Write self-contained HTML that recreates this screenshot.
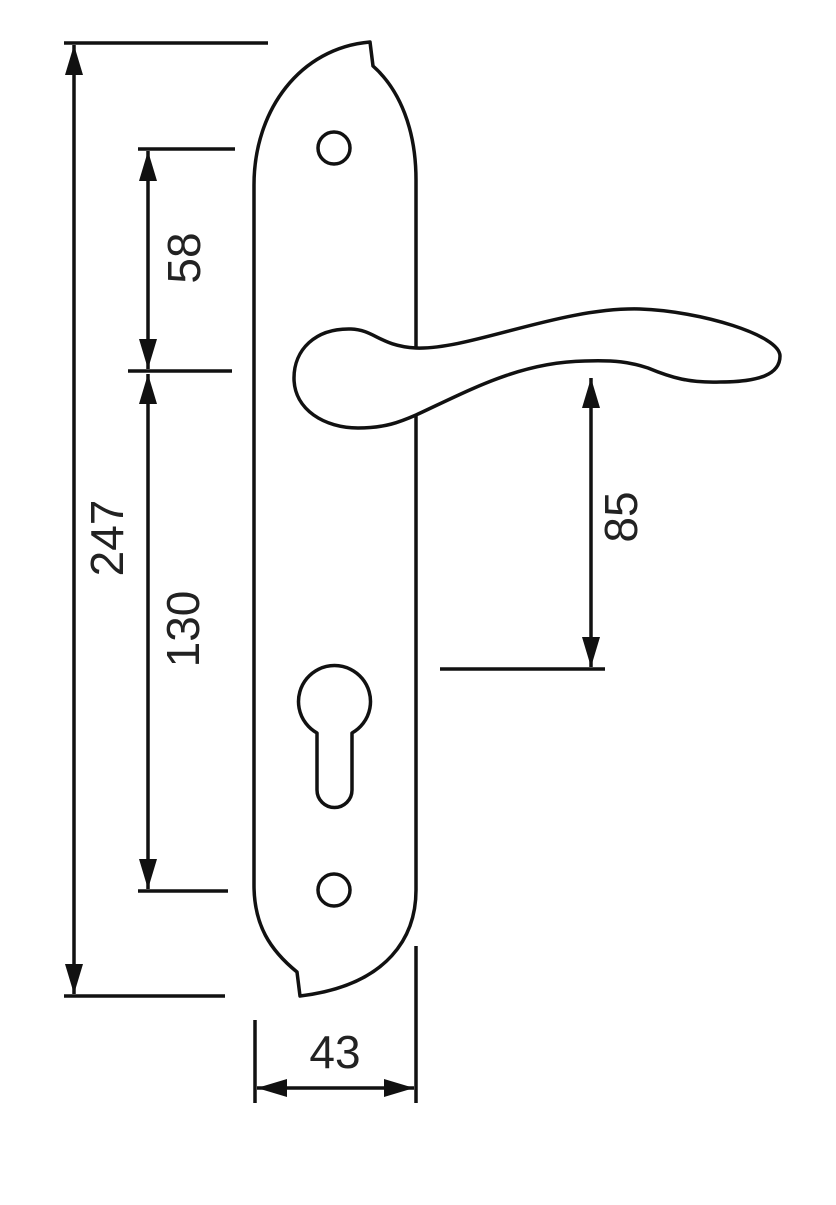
<!DOCTYPE html>
<html><head><style>html,body{margin:0;padding:0;background:#fff}</style></head>
<body>
<svg width="836" height="1200" viewBox="0 0 836 1200" xmlns="http://www.w3.org/2000/svg">
<defs>
<marker id="a" viewBox="0 0 30 18" refX="30" refY="9" markerWidth="30" markerHeight="18" markerUnits="userSpaceOnUse" orient="auto-start-reverse">
<path d="M0,0 L30,9 L0,18 Z" fill="#111"/>
</marker>
</defs>
<g stroke="#111" stroke-width="3.5" fill="none" stroke-linecap="butt" stroke-linejoin="round">
<!-- plate -->
<path d="M416,348 L416,180 C416,130 400,90 373,66 L370,42 C300,48 254,110 254,185 L254,885 C254,925 270,950 297,972 L300,996 C390,985 416,935 416,890 L416,415"/>
<!-- screw holes -->
<circle cx="334" cy="148" r="16"/>
<circle cx="334" cy="890" r="16"/>
<!-- keyhole -->
<path d="M317,733 A36,36 0 1 1 352,733 L352,790 A17.5,17.5 0 0 1 317,790 Z"/>
<!-- handle -->
<path d="M416,348 C380,346 375,330 351,329 C315,328 294,350 294,378 C294,410 325,428 358,428 C385,428 400,422 416,415 C470,390 520,362 585,361 C615,360 630,362 648,368 C672,378 690,383 720,382 C760,382 780,374 780,356 C780,335 700,311 640,309 C560,307 470,350 416,348 Z"/>
<!-- extension lines -->
<path d="M64,43 H268 M64,996 H225 M138,149 H235 M128,371 H232 M138,891 H228 M440,669 H605 M255,1020 V1103 M416,946 V1103"/>
<!-- dimension lines -->
<path d="M74,45 V994" marker-start="url(#a)" marker-end="url(#a)"/>
<path d="M148,151 V369" marker-start="url(#a)" marker-end="url(#a)"/>
<path d="M148,374 V889" marker-start="url(#a)" marker-end="url(#a)"/>
<path d="M591,378 V667" marker-start="url(#a)" marker-end="url(#a)"/>
<path d="M257,1088 H414" marker-start="url(#a)" marker-end="url(#a)"/>
</g>
<g font-family="Liberation Sans, sans-serif" font-size="46" fill="#222" text-anchor="middle" dominant-baseline="central">
<text transform="translate(107,538) rotate(-90)">247</text>
<text transform="translate(184,258) rotate(-90)">58</text>
<text transform="translate(183,629) rotate(-90)">130</text>
<text transform="translate(621,517) rotate(-90)">85</text>
<text x="335" y="1052">43</text>
</g>
</svg>
</body></html>
